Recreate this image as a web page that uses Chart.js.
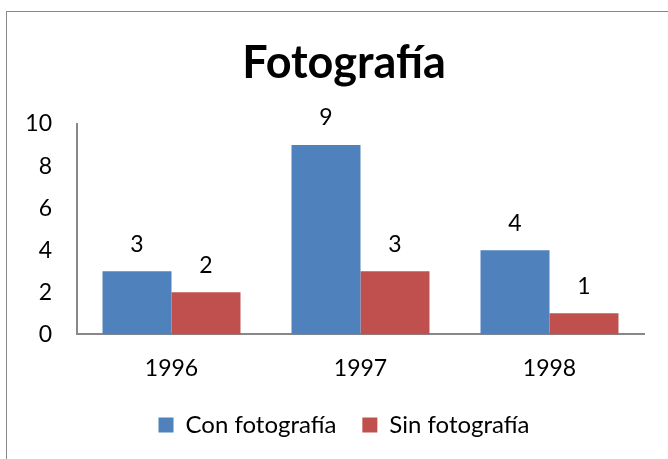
<!DOCTYPE html>
<html>
<head>
<meta charset="utf-8">
<script src="https://cdn.jsdelivr.net/npm/chart.js@4"></script>
<style>
  html, body { margin: 0; padding: 0; background: #fff; overflow: hidden; }
  #frame { position: absolute; left: 6px; top: 11px; width: 700px; height: 500px; border-left: 1px solid #888; border-top: 1px solid #888; }
  #wrap { position: absolute; left: 0; top: 0; width: 668px; height: 459px; }
</style>
</head>
<body>
<div id="frame"></div>
<div id="wrap"><canvas id="myChart"></canvas></div>
<script>
const labels = ['1996', '1997', '1998'];
const conFoto = [3, 9, 4];
const sinFoto = [2, 3, 1];
const seriesNames = ['Con fotografía', 'Sin fotografía'];
const yTicks = [0, 2, 4, 6, 8, 10];

const FONT = 'Lato, "Open Sans", sans-serif';

// simple value labels above each bar
const barValues = {
  id: 'barValues',
  afterDatasetsDraw(chart) {
    const ctx = chart.ctx;
    ctx.save();
    ctx.font = '23px ' + FONT;
    ctx.fillStyle = '#000';
    ctx.textAlign = 'center';
    ctx.textBaseline = 'middle';
    chart.data.datasets.forEach((ds, i) => {
      chart.getDatasetMeta(i).data.forEach((bar, j) => {
        ctx.fillText(ds.data[j], bar.x, bar.y - 27);
      });
    });
    ctx.restore();
  }
};

new Chart('myChart', {
  type: 'bar',
  data: {
    labels: labels,
    datasets: [
      { label: seriesNames[0], data: conFoto, backgroundColor: '#4F81BD' },
      { label: seriesNames[1], data: sinFoto, backgroundColor: '#C0504D' }
    ]
  },
  options: {
    responsive: true,
    maintainAspectRatio: false,
    animation: false,
    layout: { padding: { left: 20, right: 0, top: 0, bottom: 12 } },
    datasets: { bar: { categoryPercentage: 0.73, barPercentage: 1 } },
    scales: {
      x: {
        afterFit(scale) { scale.height -= 7; },
        grid: { display: false },
        border: { display: true, color: '#888', width: 2 },
        ticks: { color: '#000', font: { family: FONT, size: 23 }, padding: 12 }
      },
      y: {
        min: 0, max: 10,
        afterBuildTicks(scale) { scale.ticks = yTicks.map(v => ({ value: v })); },
        afterFit(scale) { scale.width = 57; },
        grid: { display: false },
        border: { display: true, color: '#888', width: 2 },
        ticks: { color: '#000', font: { family: FONT, size: 23 }, padding: 17 }
      },
      // empty spacer on the right so the plot ends where the original does
      spacer: {
        type: 'linear',
        position: 'right',
        afterFit(scale) { scale.width = 24; },
        grid: { display: false },
        border: { display: false },
        ticks: { display: false }
      }
    },
    plugins: {
      title: {
        display: true,
        text: 'Fotografía',
        color: '#000',
        font: { family: FONT, size: 45, weight: 'bold' },
        padding: { top: 36, bottom: 34 }
      },
      legend: {
        position: 'bottom',
        labels: {
          color: '#000',
          font: { family: FONT, size: 24 },
          boxWidth: 15, boxHeight: 15,
          padding: 26
        }
      },
      tooltip: { enabled: false }
    }
  },
  plugins: [barValues]
});
</script>
</body>
</html>
